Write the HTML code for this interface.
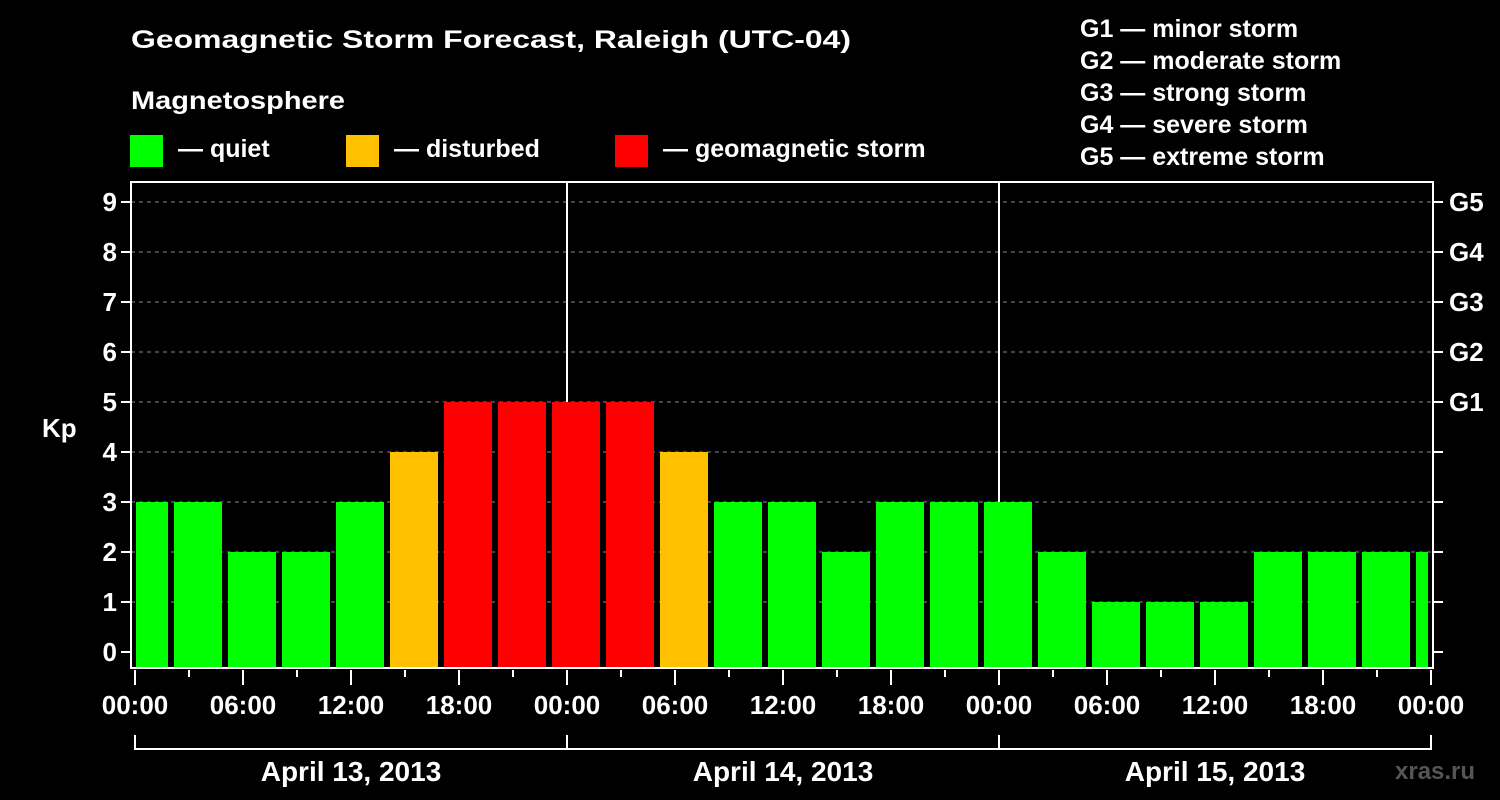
<!DOCTYPE html>
<html><head><meta charset="utf-8"><style>
html,body{margin:0;padding:0;background:#000;}
svg{display:block;font-family:"Liberation Sans",Arial,sans-serif;font-weight:bold;}
</style></head><body>
<svg id="chart" width="1500" height="800" viewBox="0 0 1500 800">
<rect x="0" y="0" width="1500" height="800" fill="#000"/>
<text x="131" y="48" font-size="25" fill="#fff" textLength="720" lengthAdjust="spacingAndGlyphs">Geomagnetic Storm Forecast, Raleigh (UTC-04)</text>
<text x="131" y="109" font-size="25" fill="#fff" textLength="214" lengthAdjust="spacingAndGlyphs">Magnetosphere</text>
<rect x="130" y="135" width="33" height="32" fill="#00ff00"/>
<text x="178" y="157" font-size="25" fill="#fff">— quiet</text>
<rect x="346" y="135" width="33" height="32" fill="#ffc000"/>
<text x="394" y="157" font-size="25" fill="#fff">— disturbed</text>
<rect x="615" y="135" width="33" height="32" fill="#ff0000"/>
<text x="663" y="157" font-size="25" fill="#fff">— geomagnetic storm</text>
<g font-size="25" fill="#fff">
<text x="1080" y="37">G1 — minor storm</text>
<text x="1080" y="69">G2 — moderate storm</text>
<text x="1080" y="101">G3 — strong storm</text>
<text x="1080" y="133">G4 — severe storm</text>
<text x="1080" y="165">G5 — extreme storm</text>
</g>
<text x="42" y="437" font-size="26" fill="#fff">Kp</text>
<text x="1395" y="779" font-size="24" fill="#555">xras.ru</text>
<g id="grid"></g><g id="bars"></g><g id="axes"></g>
</svg>
<script>
const kpValues=[3,3,2,2,3,4,5,5,5,5,4,3,3,2,3,3,3,2,1,1,1,2,2,2,2];
const yTicks=[0,1,2,3,4,5,6,7,8,9];
const gLabels=["","","","","","G1","G2","G3","G4","G5"];
const xTickLabels=["00:00","06:00","12:00","18:00","00:00","06:00","12:00","18:00","00:00","06:00","12:00","18:00","00:00"];
const dayLabels=["April 13, 2013","April 14, 2013","April 15, 2013"];
const NS="http://www.w3.org/2000/svg";
const L=131,R=1433,T=182,B=668,X0=135,PXH=18;
const y=v=>652-v*50;
const xh=h=>X0+h*PXH;
function mk(tag,attrs,parent){const e=document.createElementNS(NS,tag);for(const k in attrs)e.setAttribute(k,attrs[k]);parent.appendChild(e);return e;}
const grid=document.getElementById('grid'),bars=document.getElementById('bars'),axes=document.getElementById('axes');
yTicks.forEach(v=>{if(v===0)return;
 const g=mk('line',{x1:L,x2:R,y1:y(v),y2:y(v),stroke:'#888','stroke-width':1,'stroke-dasharray':'4,4'},grid);
 
 });
[24,48].forEach(h=>{const d=mk('line',{x1:xh(h),x2:xh(h),y1:T,y2:B,stroke:'#fff','stroke-width':2},grid);
 
 });
const col=v=>v>=5?'#ff0000':(v>=4?'#ffc000':'#00ff00');
kpValues.forEach((v,i)=>{
 let x1=xh(3*i)-15,x2=x1+48;x1=Math.max(x1,L+5);x2=Math.min(x2,R-5);
 const r=mk('rect',{x:x1,y:y(v),width:x2-x1,height:B-y(v),fill:col(v)},bars);
 
 });
const fr=mk('rect',{x:L,y:T,width:R-L,height:B-T,fill:'none',stroke:'#fff','stroke-width':2},axes);


yTicks.forEach((v,i)=>{
 mk('line',{x1:L-10,x2:L,y1:y(v),y2:y(v),stroke:'#fff','stroke-width':2},axes);
 mk('line',{x1:R,x2:R+10,y1:y(v),y2:y(v),stroke:'#fff','stroke-width':2},axes);
 const t=mk('text',{x:L-14,y:y(v)+9,'text-anchor':'end','font-size':26,fill:'#fff'},axes);t.textContent=v;
 
 
 if(gLabels[i]){const g=mk('text',{x:R+16,y:y(v)+9,'font-size':26,fill:'#fff'},axes);g.textContent=gLabels[i];
  
  }
});
for(let h=0;h<=72;h+=3){mk('line',{x1:xh(h),x2:xh(h),y1:B+2,y2:h%6===0?685:677,stroke:'#fff','stroke-width':2},axes);}
xTickLabels.forEach((s,i)=>{const t=mk('text',{x:xh(6*i),y:714,'text-anchor':'middle','font-size':26,fill:'#fff'},axes);t.textContent=s;
 
 });
mk('path',{d:`M${xh(0)},735 V749 H${xh(72)} V735 M${xh(24)},735 V749 M${xh(48)},735 V749`,stroke:'#fff','stroke-width':2,fill:'none'},axes);
dayLabels.forEach((s,i)=>{const t=mk('text',{x:xh(24*i+12),y:781,'text-anchor':'middle','font-size':28,fill:'#fff'},axes);t.textContent=s;
 
 });
</script>
</body></html>
